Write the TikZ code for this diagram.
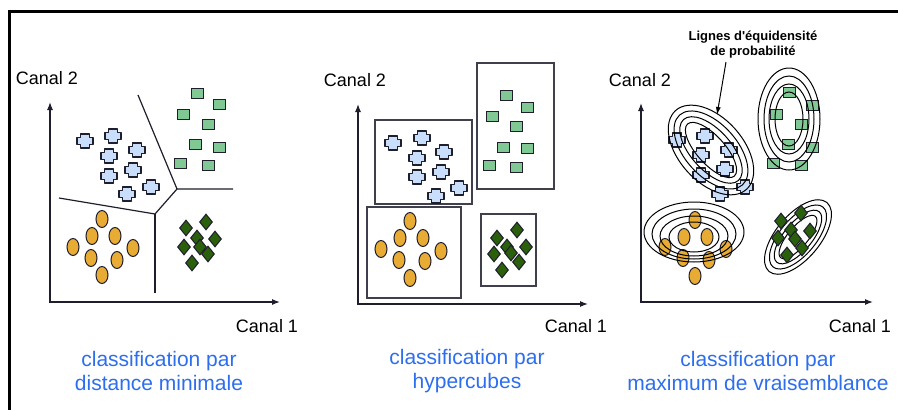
\documentclass[tikz,border=0pt]{standalone}
\usepackage{fontspec}
\setmainfont{Liberation Sans}
\usepackage{tikz}
\usetikzlibrary{shapes.geometric, arrows.meta, positioning}
\definecolor{mydark}{RGB}{30,30,45}
\definecolor{crossblue}{RGB}{200,222,250}
\definecolor{sqgreen}{RGB}{128,200,148}
\definecolor{ovorange}{RGB}{232,172,52}
\definecolor{diagreen}{RGB}{42,95,12}
\definecolor{capblue}{RGB}{45,110,240}
\tikzset{
  axisarrow/.style={{Latex[length=8pt,width=6pt]}-{Latex[length=8pt,width=6pt]}, line width=1.2pt, color=mydark},
  vorline/.style={line width=1.2pt, color=mydark},
  cube/.style={draw=mydark!85, line width=1.2pt},
  ring/.style={line width=1pt, color=black},
  sqmark/.style={rectangle, draw=mydark, fill=sqgreen, minimum width=12pt,
    minimum height=10pt, inner sep=0pt, line width=1pt},
  ovmark/.style={ellipse, draw=mydark, fill=ovorange, minimum width=12pt,
    minimum height=17pt, inner sep=0pt, line width=1pt},
  diamark/.style={diamond, draw=mydark, fill=diagreen, minimum width=13pt,
    minimum height=16pt, inner sep=0pt, line width=1pt},
  crossmark/.pic={\draw[draw=mydark, fill=crossblue, line width=1.1pt, line join=round]
    (-4.5,-7) -- (4.5,-7) -- (4.5,-3.5) -- (8,-3.5) -- (8,3.5) -- (4.5,3.5) -- (4.5,7) -- (-4.5,7)
    -- (-4.5,3.5) -- (-8,3.5) -- (-8,-3.5) -- (-4.5,-3.5) -- cycle;},
  axlabel/.style={font=\fontsize{18}{21}\selectfont, inner sep=0pt},
  capt/.style={font=\fontsize{21}{23.5}\selectfont, text=capblue, align=center, inner sep=0pt}
}

\begin{document}
\begin{tikzpicture}[x=1pt, y=-1pt]
    \useasboundingbox[fill=white] (0,0) rectangle (898,410);
    % frame
    \draw[line width=3pt, black] (9,410) -- (9,11) -- (898,11);

    % ---- distance minimale
    \coordinate (o1) at (50,302);
    \coordinate (y1) at (50,102);
    \coordinate (x1) at (280,302);
    \draw[axisarrow] (y1) -- (o1) -- (x1);
    \node[axlabel] (c2a) at (47,78) {Canal 2};
    \node[axlabel] (c1a) at (267,326) {Canal 1};

    % borders between classes
    \coordinate (v1) at (177,189);
    \coordinate (v2) at (155,214);
    \draw[vorline] (138,95) -- (v1) -- (233,189);
    \draw[vorline] (v1) -- (v2) -- (59,198);
    \draw[vorline] (v2) -- (155,293);

    \foreach \px/\py [count=\i] in {197/93,219/104,183/114,208/124,195/144,219/147,180/163,208/165}
      \node[sqmark] (sa-\i) at (\px,\py) {};
    \foreach \px/\py [count=\i] in {85/141,113/136,109/156,137/150,109/176,133/170,151/187,127/194}
      \pic (ca-\i) at (\px,\py) {crossmark};
    \foreach \px/\py [count=\i] in {102/219,92/236,115/236,73/247,133/248,91/258,117/260,102/275}
      \node[ovmark] (oa-\i) at (\px,\py) {};
    \foreach \px/\py [count=\i] in {206/222,186/228,197/238,215/239,184/247,200/247,208/254,192/263}
      \node[diamark] (da-\i) at (\px,\py) {};

    \node[capt] (capa) at (159,371) {classification par\\distance minimale};

    % ---- hypercubes
    \coordinate (o2) at (358,304);
    \coordinate (y2) at (358,104);
    \coordinate (x2) at (588,304);
    \draw[axisarrow] (y2) -- (o2) -- (x2);
    \node[axlabel] (c2b) at (355,80) {Canal 2};
    \node[axlabel] (c1b) at (576,326) {Canal 1};

    \draw[cube] (477,63) rectangle (554,189);
    \draw[cube] (375,120) rectangle (472,204);
    \draw[cube] (367,207) rectangle (461,298);
    \draw[cube] (481,214) rectangle (536,286);

    \foreach \px/\py [count=\i] in {506/95,527/107,492/116,516/126,503/147,527/148,489/165,516/167}
      \node[sqmark] (sb-\i) at (\px,\py) {};
    \foreach \px/\py [count=\i] in {393/143,422/138,417/158,444/152,417/177,441/172,459/188,436/196}
      \pic (cb-\i) at (\px,\py) {crossmark};
    \foreach \px/\py [count=\i] in {410/221,400/238,423/238,381/249,441/251,399/260,425/261,410/278}
      \node[ovmark] (ob-\i) at (\px,\py) {};
    \foreach \px/\py [count=\i] in {517/230,497/238,507/247,526/247,494/254,511/253,519/262,502/270}
      \node[diamark] (db-\i) at (\px,\py) {};

    \node[capt] (capb) at (467,371) {classification par\\hypercubes};

    % ---- maximum de vraisemblance
    \coordinate (o3) at (641,302);
    \coordinate (y3) at (641,103);
    \coordinate (x3) at (873,302);
    \draw[axisarrow] (y3) -- (o3) -- (x3);
    \node[axlabel] (c2c) at (640,80) {Canal 2};
    \node[axlabel] (c1c) at (860,326) {Canal 1};

    \foreach \px/\py [count=\i] in {789/92,812/105,776/114,801/124,788/144,812/147,773/163,801/165}
      \node[sqmark] (sc-\i) at (\px,\py) {};
    \foreach \px/\py [count=\i] in {677/140,705/136,729/150,701/155,725/169,701/175,745/187,720/194}
      \pic (cc-\i) at (\px,\py) {crossmark};
    \foreach \px/\py [count=\i] in {695/220,684/237,707/237,665/247,726/249,683/258,709/260,695/276}
      \node[ovmark] (oc-\i) at (\px,\py) {};

    % equidensity lines
    \coordinate (bc) at (711,150);
    \coordinate (gc) at (789,119);
    \coordinate (dc) at (798,237);
    \foreach \a/\b in {53/32,47/26,41/20,35/14}
      \draw[ring, rotate around={-48:(bc)}] (bc) ellipse [x radius=\a, y radius=\b];
    \foreach \a/\b in {31/51,25/43,20/35,14/27}
      \draw[ring] (gc) ellipse [x radius=\a, y radius=\b];
    \foreach \a/\b/\dy in {50/30/0,42/25/2,34/20/4,25/15/5}
      \draw[ring] (694,232+\dy) ellipse [x radius=\a, y radius=\b];
    \foreach \a/\b in {45/22,39/18,33/14,27/10}
      \draw[ring, rotate around={50:(dc)}] (dc) ellipse [x radius=\a, y radius=\b];

    \foreach \px/\py [count=\i] in {801/213,781/221,791/230,810/231,778/238,795/239,802/248,787/255}
      \node[diamark] (dc-\i) at (\px,\py) {};

    \node[font=\fontsize{13}{15}\selectfont\bfseries, align=center, inner sep=0pt] (lig) at (753,45)
      {Lignes d\textquotesingle équidensité\\de probabilité};
    \coordinate (ligfoot) at (726,62);
    \coordinate (ligtip) at (717,115);
    \draw[-{Latex[length=8pt,width=5pt]}, line width=1pt] (ligfoot) -- (ligtip);

    \node[capt] (capc) at (758,371) {classification par\\maximum de vraisemblance};
\end{tikzpicture}
\end{document}
